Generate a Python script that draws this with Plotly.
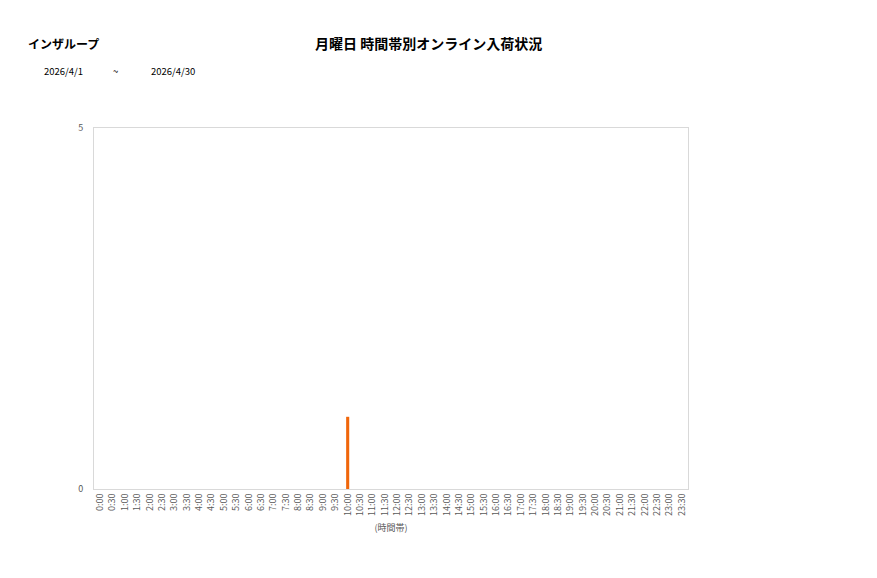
import plotly.graph_objects as go

categories = [f"{h}:{m:02d}" for h in range(24) for m in (0, 30)]
values = [0] * 48
values[20] = 1  # 10:00

title_text = "月曜日 時間帯別オンライン入荷状況"
store_name = "インザループ"
date_from = "2026/4/1"
date_sep = "~"
date_to = "2026/4/30"
x_title = "(時間帯)"

font_family = "Noto Sans CJK JP, Noto Sans, sans-serif"

# page body has an 8px default margin
OFF = 8
W, H = 877 - OFF, 578 - OFF
L, R, T, B = 94 - OFF, 189, 128 - OFF, 89

fig = go.Figure()
fig.add_trace(go.Bar(
    x=categories, y=values,
    marker=dict(color="#f0660a", line=dict(width=0)),
    width=0.25,
))

fig.update_layout(
    width=W, height=H,
    margin=dict(l=L, r=R, t=T, b=B),
    paper_bgcolor="white", plot_bgcolor="white",
    showlegend=False,
    font=dict(family=font_family, color="#404040"),
    xaxis=dict(
        type="category", tickangle=-90,
        tickfont=dict(size=9, color="#595959"),
        showline=True, linecolor="#d9d9d9", linewidth=1, mirror=True,
        showgrid=False, ticks="",
        title=dict(text=x_title, font=dict(size=9, color="#595959"), standoff=9),
    ),
    yaxis=dict(
        range=[0, 5], tickvals=[0, 5],
        tickfont=dict(size=9, color="#595959"),
        showline=True, linecolor="#d9d9d9", linewidth=1, mirror=True,
        showgrid=False, zeroline=False, ticks="",
        ticklabelstandoff=8,
    ),
)

pw = W - L - R
ph = H - T - B


def px_to_paper(x, y):
    # x, y are pixel positions in the 877x578 window (from top-left)
    return (x - OFF - L) / pw, (H - B - (y - OFF)) / ph


def add_text(text, x, y, size, xanchor):
    px, py = px_to_paper(x, y)
    fig.add_annotation(text=text, x=px, y=py, xref="paper", yref="paper",
                       xanchor=xanchor, yanchor="middle", showarrow=False,
                       font=dict(size=size, color="#000000"))


add_text(f"<b>{title_text}</b>", 428, 43, 14, "center")
add_text(f"<b>{store_name}</b>", 26, 43, 12, "left")
add_text(date_from, 42, 71, 9.5, "left")
add_text(date_sep, 115, 71, 9.5, "center")
add_text(date_to, 149, 71, 9.5, "left")

fig.write_html("out.html")
